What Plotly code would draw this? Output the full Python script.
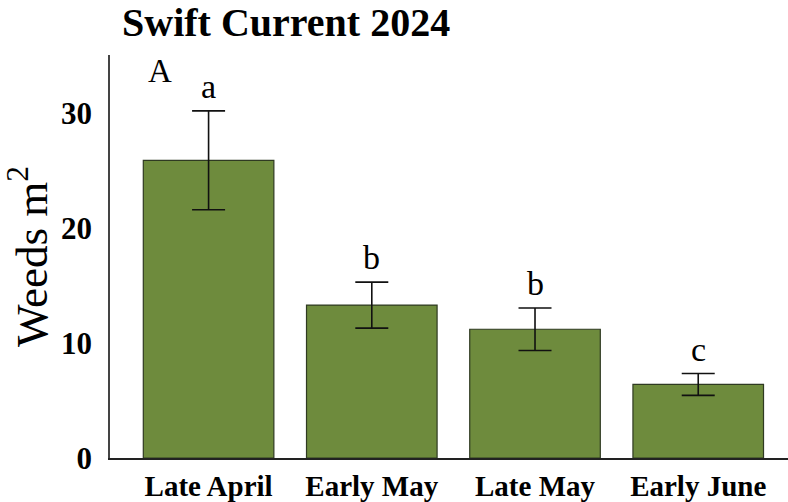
import plotly.graph_objects as go

# Weed density by seeding date, Swift Current 2024
dates = ["Late April", "Early May", "Late May", "Early June"]
weeds = [25.9, 13.3, 11.2, 6.4]
se = [4.3, 2.0, 1.85, 0.95]
letters = ["a", "b", "b", "c"]
y_ticks = [0, 10, 20, 30]

SERIF = "Liberation Serif, Times New Roman, serif"

fig = go.Figure(
    go.Bar(
        x=dates,
        y=weeds,
        marker=dict(color="#6E8B3D", line=dict(color="#2f3a22", width=1.2)),
        error_y=dict(type="data", array=se, color="#111111", thickness=1.6, width=16.5),
        width=0.8,
    )
)

for d, v, e, lab in zip(dates, weeds, se, letters):
    fig.add_annotation(
        x=d, y=v + e, text=lab, showarrow=False,
        yanchor="bottom", yshift=4,
        font=dict(family=SERIF, size=34, color="black"),
    )

fig.add_annotation(
    xref="paper", yref="paper", x=0.053, y=1.01, text="A", showarrow=False,
    xanchor="left", yanchor="top",
    font=dict(family=SERIF, size=33, color="black"),
)

fig.update_layout(
    width=788, height=502,
    margin=dict(l=110, r=0, t=55, b=42),
    paper_bgcolor="white", plot_bgcolor="white",
    showlegend=False,
    title=dict(
        text="<b>Swift Current 2024</b>",
        xref="container", yref="container",
        x=122 / 788, xanchor="left", y=1 - 22 / 502, yanchor="middle",
        font=dict(family=SERIF, size=40, color="black"),
    ),
    xaxis=dict(
        range=[-0.604, 3.55],
        showline=True, linecolor="#222222", linewidth=1.5,
        ticks="", showgrid=False,
        tickfont=dict(family=SERIF, size=29, color="black"),
        ticklabelstandoff=1,
    ),
    yaxis=dict(
        range=[0, 35.06],
        tickvals=y_ticks,
        ticktext=[f"<b>{t}</b>" for t in y_ticks],
        showline=True, linecolor="#444444", linewidth=1.5,
        ticks="", showgrid=False, zeroline=False,
        tickfont=dict(family=SERIF, size=31, color="black"),
        ticklabelstandoff=10,
        title=dict(
            text="Weeds m<sup>2</sup>",
            font=dict(family=SERIF, size=45, color="black"),
            standoff=14,
        ),
    ),
)
fig.update_xaxes(ticktext=[f"<b>{d}</b>" for d in dates], tickvals=dates)

fig.write_html("out.html")
